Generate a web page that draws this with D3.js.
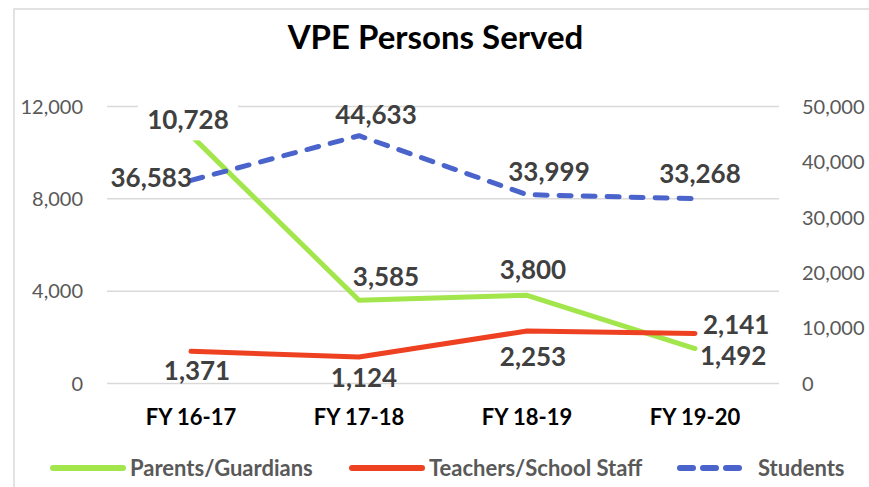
<!DOCTYPE html>
<html>
<head>
<meta charset="utf-8">
<script src="https://cdn.jsdelivr.net/npm/d3@7"></script>
<style>
  body { margin: 0; background: #fff; }
  text { font-family: Lato, "Open Sans", sans-serif; }
</style>
</head>
<body>
<svg id="chart" width="869" height="487"></svg>
<script>
// chart data
var years = ["FY 16-17", "FY 17-18", "FY 18-19", "FY 19-20"];
var parents = [10728, 3585, 3800, 1492];
var teachers = [1371, 1124, 2253, 2141];
var students = [36583, 44633, 33999, 33268];
var leftTicks = [0, 4000, 8000, 12000];
var rightTicks = [0, 10000, 20000, 30000, 40000, 50000];

// where each data label sits relative to its point [dx, dy, anchor]
var parentsLabelPos = [[-3, -6, "middle"], [27, -14, "middle"], [6, -16, "middle"], [5, 16, "start"]];
var teachersLabelPos = [[6, 29, "middle"], [5, 30, "middle"], [6, 35, "middle"], [8, 0, "start"]];
var studentsLabelPos = [[1, 7, "end"], [17, -12, "middle"], [22, -14, "middle"], [5, -16, "middle"]];

var svg = d3.select("#chart");

// chart frame
svg.append("rect")
    .attr("x", 14)
    .attr("y", 9)
    .attr("width", 880)
    .attr("height", 500)
    .attr("fill", "#fff")
    .attr("stroke", "#d9d9d9")
    .attr("stroke-width", 1.5);

// title
svg.append("text")
    .attr("x", 435.5)
    .attr("y", 49)
    .attr("text-anchor", "middle")
    .style("font-size", "33px")
    .style("font-weight", "bold")
    .attr("fill", "#000")
    .text("VPE Persons Served");

// scales
var x = d3.scalePoint()
    .domain(years)
    .range([107, 779])
    .padding(0.5);

var yLeft = d3.scaleLinear()
    .domain([0, 12000])
    .range([383, 106]);

var yRight = d3.scaleLinear()
    .domain([0, 50000])
    .range([383, 106]);

// left axis with gridlines
var leftAxis = svg.append("g")
    .attr("transform", "translate(107,0)")
    .call(d3.axisLeft(yLeft).tickValues(leftTicks).tickSize(-672).tickPadding(24).tickFormat(d3.format(",")));

// right axis
var rightAxis = svg.append("g")
    .attr("transform", "translate(779,0)")
    .call(d3.axisRight(yRight).tickValues(rightTicks).tickSize(0).tickPadding(23).tickFormat(d3.format(",")));

[leftAxis, rightAxis].forEach(function(g) {
    g.select(".domain").remove();
    g.selectAll("line").attr("stroke", "#d9d9d9").attr("stroke-width", 1.5);
    g.selectAll("text")
        .attr("fill", "#595959")
        .attr("dy", "0.36em")
        .style("font-size", "20px")
        .style("font-family", "Lato, sans-serif");
});

// category labels
svg.append("g").selectAll("text")
    .data(years)
    .enter()
    .append("text")
    .attr("x", d => x(d))
    .attr("y", 425)
    .attr("text-anchor", "middle")
    .style("font-size", "22px")
    .style("font-weight", "bold")
    .attr("fill", "#000")
    .text(d => d);

var series = [
    {name: "Parents/Guardians", values: parents, scale: yLeft, color: "#a2e64c", dash: null, pos: parentsLabelPos},
    {name: "Teachers/School Staff", values: teachers, scale: yLeft, color: "#ee4122", dash: null, pos: teachersLabelPos},
    {name: "Students", values: students, scale: yRight, color: "#4a64cc", dash: "12 12", pos: studentsLabelPos}
];

// lines
series.forEach(function(s) {
    var line = d3.line()
        .x((d, i) => x(years[i]))
        .y(d => s.scale(d));
    svg.append("path")
        .datum(s.values)
        .attr("d", line)
        .attr("fill", "none")
        .attr("stroke", s.color)
        .attr("stroke-width", 5)
        .attr("stroke-linecap", "round")
        .attr("stroke-linejoin", "round")
        .attr("stroke-dasharray", s.dash);
});

// data labels
var fmt = d3.format(",");
series.forEach(function(s, si) {
    s.values.forEach(function(v, i) {
        var px = x(years[i]) + s.pos[i][0];
        var py = s.scale(v) + s.pos[i][1];
        var t = svg.append("text")
            .attr("x", px)
            .attr("y", py)
            .attr("text-anchor", s.pos[i][2])
            .style("font-size", "26px")
            .style("font-weight", "bold")
            .attr("fill", "#404040")
            .text(fmt(v));
        // the first parents label has a white box behind it
        if (si == 0 && i == 0) {
            svg.insert("rect", function() { return t.node(); })
                .attr("x", px - 50)
                .attr("y", py - 25)
                .attr("width", 100)
                .attr("height", 36)
                .attr("fill", "#fff");
        }
    });
});

// legend
var legendX = [53, 352, 680];
var legend = svg.append("g");
series.forEach(function(s, i) {
    legend.append("line")
        .attr("x1", legendX[i])
        .attr("x2", legendX[i] + (s.dash ? 65 : 70))
        .attr("y1", 468)
        .attr("y2", 468)
        .attr("stroke", s.color)
        .attr("stroke-width", 6)
        .attr("stroke-linecap", "round")
        .attr("stroke-dasharray", s.dash ? "13 10" : null);
    legend.append("text")
        .attr("x", legendX[i] + (s.dash ? 78 : 77))
        .attr("y", 476)
        .style("font-size", "22px")
        .style("font-weight", "bold")
        .attr("fill", "#595959")
        .text(s.name);
});
</script>
</body>
</html>
